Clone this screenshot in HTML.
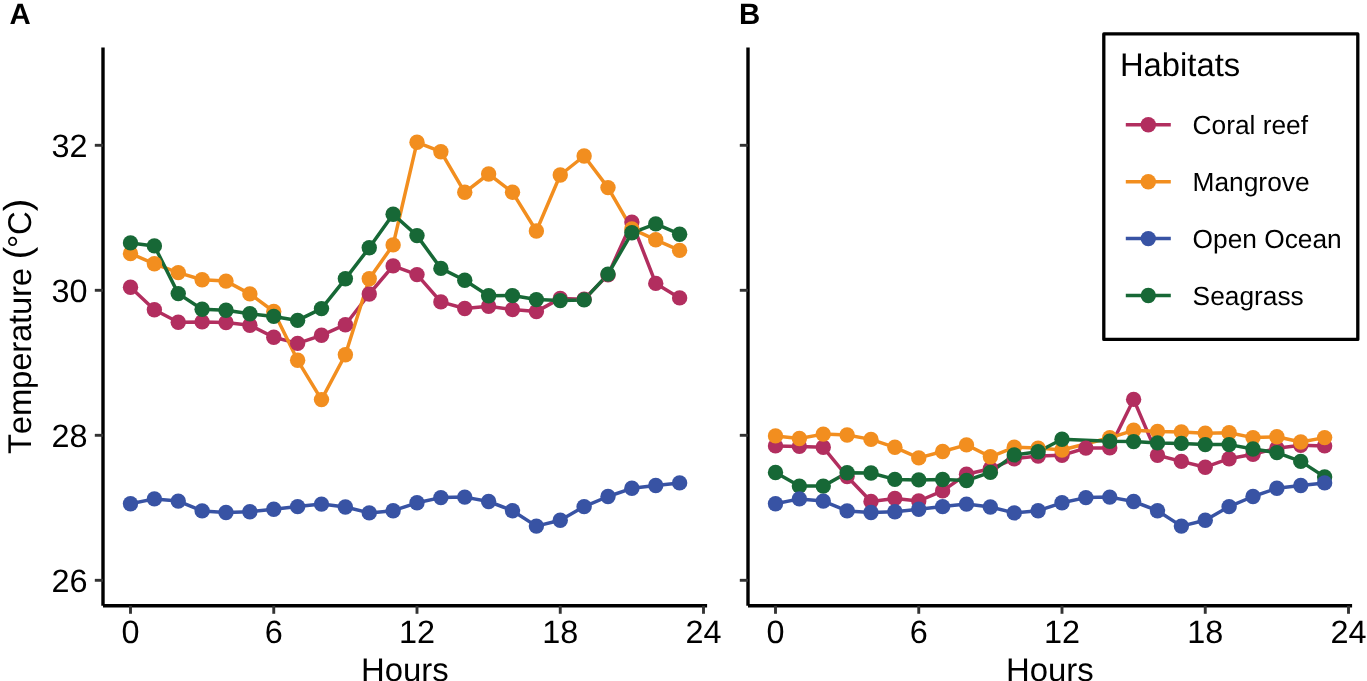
<!DOCTYPE html>
<html><head><meta charset="utf-8"><title>Temperature by habitat</title>
<style>
html,body{margin:0;padding:0;background:#fff;}
body{width:1367px;height:681px;overflow:hidden;}
svg{display:block;will-change:transform;}
text{font-family:"Liberation Sans",sans-serif;fill:#000;text-rendering:geometricPrecision;font-kerning:none;}
.tk{font-size:32.4px;}
.lt{font-size:32.8px;}
.ti{font-size:32.9px;}
.lg{font-size:26.3px;}
.pl{font-size:29.4px;font-weight:bold;}
.par{font-size:37.5px;letter-spacing:-1.3px;}
</style></head>
<body>
<svg width="1367" height="681" viewBox="0 0 1367 681">
<rect width="1367" height="681" fill="#fff"/>
<line x1="103.0" y1="47.4" x2="103.0" y2="605.7" stroke="#000" stroke-width="3.4"/>
<line x1="103.0" y1="605.85" x2="707.1" y2="605.85" stroke="#000" stroke-width="3.5"/>
<line x1="94.8" y1="580.30" x2="103.0" y2="580.30" stroke="#333" stroke-width="2.9"/>
<line x1="94.8" y1="435.30" x2="103.0" y2="435.30" stroke="#333" stroke-width="2.9"/>
<line x1="94.8" y1="290.30" x2="103.0" y2="290.30" stroke="#333" stroke-width="2.9"/>
<line x1="94.8" y1="145.30" x2="103.0" y2="145.30" stroke="#333" stroke-width="2.9"/>
<line x1="130.50" y1="605.85" x2="130.50" y2="613.8" stroke="#333" stroke-width="2.9"/>
<line x1="273.75" y1="605.85" x2="273.75" y2="613.8" stroke="#333" stroke-width="2.9"/>
<line x1="417.00" y1="605.85" x2="417.00" y2="613.8" stroke="#333" stroke-width="2.9"/>
<line x1="560.25" y1="605.85" x2="560.25" y2="613.8" stroke="#333" stroke-width="2.9"/>
<line x1="703.50" y1="605.85" x2="703.50" y2="613.8" stroke="#333" stroke-width="2.9"/>
<text x="87.6" y="592.20" text-anchor="end" class="tk">26</text>
<text x="87.6" y="447.20" text-anchor="end" class="tk">28</text>
<text x="87.6" y="302.20" text-anchor="end" class="tk">30</text>
<text x="87.6" y="157.20" text-anchor="end" class="tk">32</text>
<text x="130.50" y="643.2" text-anchor="middle" class="tk">0</text>
<text x="273.75" y="643.2" text-anchor="middle" class="tk">6</text>
<text x="417.00" y="643.2" text-anchor="middle" class="tk">12</text>
<text x="560.25" y="643.2" text-anchor="middle" class="tk">18</text>
<text x="703.50" y="643.2" text-anchor="middle" class="tk">24</text>
<text x="404.8" y="681.2" text-anchor="middle" class="ti">Hours</text>
<line x1="748.0" y1="47.4" x2="748.0" y2="605.7" stroke="#000" stroke-width="3.4"/>
<line x1="748.0" y1="605.85" x2="1352.1" y2="605.85" stroke="#000" stroke-width="3.5"/>
<line x1="739.8" y1="580.30" x2="748.0" y2="580.30" stroke="#333" stroke-width="2.9"/>
<line x1="739.8" y1="435.30" x2="748.0" y2="435.30" stroke="#333" stroke-width="2.9"/>
<line x1="739.8" y1="290.30" x2="748.0" y2="290.30" stroke="#333" stroke-width="2.9"/>
<line x1="739.8" y1="145.30" x2="748.0" y2="145.30" stroke="#333" stroke-width="2.9"/>
<line x1="775.50" y1="605.85" x2="775.50" y2="613.8" stroke="#333" stroke-width="2.9"/>
<line x1="918.75" y1="605.85" x2="918.75" y2="613.8" stroke="#333" stroke-width="2.9"/>
<line x1="1062.00" y1="605.85" x2="1062.00" y2="613.8" stroke="#333" stroke-width="2.9"/>
<line x1="1205.25" y1="605.85" x2="1205.25" y2="613.8" stroke="#333" stroke-width="2.9"/>
<line x1="1348.50" y1="605.85" x2="1348.50" y2="613.8" stroke="#333" stroke-width="2.9"/>
<text x="775.50" y="643.2" text-anchor="middle" class="tk">0</text>
<text x="918.75" y="643.2" text-anchor="middle" class="tk">6</text>
<text x="1062.00" y="643.2" text-anchor="middle" class="tk">12</text>
<text x="1205.25" y="643.2" text-anchor="middle" class="tk">18</text>
<text x="1348.50" y="643.2" text-anchor="middle" class="tk">24</text>
<text x="1049.8" y="681.2" text-anchor="middle" class="ti">Hours</text>
<path d="M130.50,287.30 L154.38,309.70 L178.25,322.30 L202.12,321.90 L226.00,322.50 L249.88,325.20 L273.75,337.30 L297.62,343.40 L321.50,335.30 L345.38,324.70 L369.25,294.00 L393.12,265.90 L417.00,274.60 L440.88,301.90 L464.75,308.50 L488.62,306.30 L512.50,309.50 L536.38,311.60 L560.25,298.40 L584.12,299.30 L608.00,274.90 L631.88,222.10 L655.75,283.40 L679.62,297.90" fill="none" stroke="#B22E5F" stroke-width="3.5" stroke-linejoin="round" stroke-linecap="butt"/>
<path d="M130.50,253.50 L154.38,263.80 L178.25,272.60 L202.12,279.70 L226.00,281.10 L249.88,293.90 L273.75,311.50 L297.62,360.30 L321.50,399.60 L345.38,354.70 L369.25,278.80 L393.12,244.90 L417.00,142.30 L440.88,151.70 L464.75,192.30 L488.62,174.00 L512.50,192.30 L536.38,231.00 L560.25,175.00 L584.12,156.00 L608.00,187.60 L631.88,228.90 L655.75,239.80 L679.62,250.40" fill="none" stroke="#F28E1F" stroke-width="3.5" stroke-linejoin="round" stroke-linecap="butt"/>
<path d="M130.50,503.70 L154.38,498.90 L178.25,501.10 L202.12,510.90 L226.00,512.50 L249.88,511.80 L273.75,509.20 L297.62,506.60 L321.50,504.10 L345.38,507.00 L369.25,512.90 L393.12,510.70 L417.00,502.80 L440.88,497.60 L464.75,497.10 L488.62,501.50 L512.50,510.70 L536.38,526.10 L560.25,520.20 L584.12,506.60 L608.00,496.50 L631.88,488.30 L655.75,485.50 L679.62,482.90" fill="none" stroke="#3853A4" stroke-width="3.5" stroke-linejoin="round" stroke-linecap="butt"/>
<path d="M130.50,242.90 L154.38,245.90 L178.25,293.60 L202.12,309.30 L226.00,310.20 L249.88,313.70 L273.75,316.40 L297.62,320.40 L321.50,308.60 L345.38,278.80 L369.25,247.80 L393.12,214.20 L417.00,235.60 L440.88,268.40 L464.75,280.30 L488.62,295.80 L512.50,295.60 L536.38,299.60 L560.25,300.60 L584.12,299.90 L608.00,274.10 L631.88,232.80 L655.75,223.90 L679.62,234.20" fill="none" stroke="#176836" stroke-width="3.5" stroke-linejoin="round" stroke-linecap="butt"/>
<circle cx="130.50" cy="287.30" r="7.7" fill="#B22E5F"/>
<circle cx="154.38" cy="309.70" r="7.7" fill="#B22E5F"/>
<circle cx="178.25" cy="322.30" r="7.7" fill="#B22E5F"/>
<circle cx="202.12" cy="321.90" r="7.7" fill="#B22E5F"/>
<circle cx="226.00" cy="322.50" r="7.7" fill="#B22E5F"/>
<circle cx="249.88" cy="325.20" r="7.7" fill="#B22E5F"/>
<circle cx="273.75" cy="337.30" r="7.7" fill="#B22E5F"/>
<circle cx="297.62" cy="343.40" r="7.7" fill="#B22E5F"/>
<circle cx="321.50" cy="335.30" r="7.7" fill="#B22E5F"/>
<circle cx="345.38" cy="324.70" r="7.7" fill="#B22E5F"/>
<circle cx="369.25" cy="294.00" r="7.7" fill="#B22E5F"/>
<circle cx="393.12" cy="265.90" r="7.7" fill="#B22E5F"/>
<circle cx="417.00" cy="274.60" r="7.7" fill="#B22E5F"/>
<circle cx="440.88" cy="301.90" r="7.7" fill="#B22E5F"/>
<circle cx="464.75" cy="308.50" r="7.7" fill="#B22E5F"/>
<circle cx="488.62" cy="306.30" r="7.7" fill="#B22E5F"/>
<circle cx="512.50" cy="309.50" r="7.7" fill="#B22E5F"/>
<circle cx="536.38" cy="311.60" r="7.7" fill="#B22E5F"/>
<circle cx="560.25" cy="298.40" r="7.7" fill="#B22E5F"/>
<circle cx="584.12" cy="299.30" r="7.7" fill="#B22E5F"/>
<circle cx="608.00" cy="274.90" r="7.7" fill="#B22E5F"/>
<circle cx="631.88" cy="222.10" r="7.7" fill="#B22E5F"/>
<circle cx="655.75" cy="283.40" r="7.7" fill="#B22E5F"/>
<circle cx="679.62" cy="297.90" r="7.7" fill="#B22E5F"/>
<circle cx="130.50" cy="253.50" r="7.7" fill="#F28E1F"/>
<circle cx="154.38" cy="263.80" r="7.7" fill="#F28E1F"/>
<circle cx="178.25" cy="272.60" r="7.7" fill="#F28E1F"/>
<circle cx="202.12" cy="279.70" r="7.7" fill="#F28E1F"/>
<circle cx="226.00" cy="281.10" r="7.7" fill="#F28E1F"/>
<circle cx="249.88" cy="293.90" r="7.7" fill="#F28E1F"/>
<circle cx="273.75" cy="311.50" r="7.7" fill="#F28E1F"/>
<circle cx="297.62" cy="360.30" r="7.7" fill="#F28E1F"/>
<circle cx="321.50" cy="399.60" r="7.7" fill="#F28E1F"/>
<circle cx="345.38" cy="354.70" r="7.7" fill="#F28E1F"/>
<circle cx="369.25" cy="278.80" r="7.7" fill="#F28E1F"/>
<circle cx="393.12" cy="244.90" r="7.7" fill="#F28E1F"/>
<circle cx="417.00" cy="142.30" r="7.7" fill="#F28E1F"/>
<circle cx="440.88" cy="151.70" r="7.7" fill="#F28E1F"/>
<circle cx="464.75" cy="192.30" r="7.7" fill="#F28E1F"/>
<circle cx="488.62" cy="174.00" r="7.7" fill="#F28E1F"/>
<circle cx="512.50" cy="192.30" r="7.7" fill="#F28E1F"/>
<circle cx="536.38" cy="231.00" r="7.7" fill="#F28E1F"/>
<circle cx="560.25" cy="175.00" r="7.7" fill="#F28E1F"/>
<circle cx="584.12" cy="156.00" r="7.7" fill="#F28E1F"/>
<circle cx="608.00" cy="187.60" r="7.7" fill="#F28E1F"/>
<circle cx="631.88" cy="228.90" r="7.7" fill="#F28E1F"/>
<circle cx="655.75" cy="239.80" r="7.7" fill="#F28E1F"/>
<circle cx="679.62" cy="250.40" r="7.7" fill="#F28E1F"/>
<circle cx="130.50" cy="503.70" r="7.7" fill="#3853A4"/>
<circle cx="154.38" cy="498.90" r="7.7" fill="#3853A4"/>
<circle cx="178.25" cy="501.10" r="7.7" fill="#3853A4"/>
<circle cx="202.12" cy="510.90" r="7.7" fill="#3853A4"/>
<circle cx="226.00" cy="512.50" r="7.7" fill="#3853A4"/>
<circle cx="249.88" cy="511.80" r="7.7" fill="#3853A4"/>
<circle cx="273.75" cy="509.20" r="7.7" fill="#3853A4"/>
<circle cx="297.62" cy="506.60" r="7.7" fill="#3853A4"/>
<circle cx="321.50" cy="504.10" r="7.7" fill="#3853A4"/>
<circle cx="345.38" cy="507.00" r="7.7" fill="#3853A4"/>
<circle cx="369.25" cy="512.90" r="7.7" fill="#3853A4"/>
<circle cx="393.12" cy="510.70" r="7.7" fill="#3853A4"/>
<circle cx="417.00" cy="502.80" r="7.7" fill="#3853A4"/>
<circle cx="440.88" cy="497.60" r="7.7" fill="#3853A4"/>
<circle cx="464.75" cy="497.10" r="7.7" fill="#3853A4"/>
<circle cx="488.62" cy="501.50" r="7.7" fill="#3853A4"/>
<circle cx="512.50" cy="510.70" r="7.7" fill="#3853A4"/>
<circle cx="536.38" cy="526.10" r="7.7" fill="#3853A4"/>
<circle cx="560.25" cy="520.20" r="7.7" fill="#3853A4"/>
<circle cx="584.12" cy="506.60" r="7.7" fill="#3853A4"/>
<circle cx="608.00" cy="496.50" r="7.7" fill="#3853A4"/>
<circle cx="631.88" cy="488.30" r="7.7" fill="#3853A4"/>
<circle cx="655.75" cy="485.50" r="7.7" fill="#3853A4"/>
<circle cx="679.62" cy="482.90" r="7.7" fill="#3853A4"/>
<circle cx="130.50" cy="242.90" r="7.7" fill="#176836"/>
<circle cx="154.38" cy="245.90" r="7.7" fill="#176836"/>
<circle cx="178.25" cy="293.60" r="7.7" fill="#176836"/>
<circle cx="202.12" cy="309.30" r="7.7" fill="#176836"/>
<circle cx="226.00" cy="310.20" r="7.7" fill="#176836"/>
<circle cx="249.88" cy="313.70" r="7.7" fill="#176836"/>
<circle cx="273.75" cy="316.40" r="7.7" fill="#176836"/>
<circle cx="297.62" cy="320.40" r="7.7" fill="#176836"/>
<circle cx="321.50" cy="308.60" r="7.7" fill="#176836"/>
<circle cx="345.38" cy="278.80" r="7.7" fill="#176836"/>
<circle cx="369.25" cy="247.80" r="7.7" fill="#176836"/>
<circle cx="393.12" cy="214.20" r="7.7" fill="#176836"/>
<circle cx="417.00" cy="235.60" r="7.7" fill="#176836"/>
<circle cx="440.88" cy="268.40" r="7.7" fill="#176836"/>
<circle cx="464.75" cy="280.30" r="7.7" fill="#176836"/>
<circle cx="488.62" cy="295.80" r="7.7" fill="#176836"/>
<circle cx="512.50" cy="295.60" r="7.7" fill="#176836"/>
<circle cx="536.38" cy="299.60" r="7.7" fill="#176836"/>
<circle cx="560.25" cy="300.60" r="7.7" fill="#176836"/>
<circle cx="584.12" cy="299.90" r="7.7" fill="#176836"/>
<circle cx="608.00" cy="274.10" r="7.7" fill="#176836"/>
<circle cx="631.88" cy="232.80" r="7.7" fill="#176836"/>
<circle cx="655.75" cy="223.90" r="7.7" fill="#176836"/>
<circle cx="679.62" cy="234.20" r="7.7" fill="#176836"/>
<path d="M775.50,445.90 L799.38,446.40 L823.25,447.30 L847.12,476.50 L871.00,501.50 L894.88,498.40 L918.75,501.00 L942.62,490.90 L966.50,474.30 L990.38,468.80 L1014.25,458.80 L1038.12,456.10 L1062.00,455.20 L1085.88,448.10 L1109.75,447.90 L1133.62,399.40 L1157.50,455.20 L1181.38,461.40 L1205.25,467.20 L1229.12,458.70 L1253.00,454.30 L1276.88,448.20 L1300.75,445.20 L1324.62,445.90" fill="none" stroke="#B22E5F" stroke-width="3.5" stroke-linejoin="round" stroke-linecap="butt"/>
<path d="M775.50,435.90 L799.38,438.50 L823.25,434.10 L847.12,435.00 L871.00,439.40 L894.88,447.30 L918.75,457.90 L942.62,451.50 L966.50,444.90 L990.38,456.80 L1014.25,447.30 L1038.12,448.10 L1062.00,450.00 L1109.75,437.80 L1133.62,430.30 L1157.50,431.40 L1181.38,431.90 L1205.25,433.20 L1229.12,432.80 L1253.00,437.60 L1276.88,436.70 L1300.75,442.00 L1324.62,437.60" fill="none" stroke="#F28E1F" stroke-width="3.5" stroke-linejoin="round" stroke-linecap="butt"/>
<path d="M775.50,472.50 L799.38,486.10 L823.25,486.10 L847.12,472.70 L871.00,473.00 L894.88,479.40 L918.75,479.90 L942.62,479.50 L966.50,480.50 L990.38,472.40 L1014.25,454.90 L1038.12,451.70 L1062.00,439.20 L1109.75,441.20 L1133.62,441.60 L1157.50,442.90 L1181.38,443.40 L1205.25,444.60 L1229.12,444.60 L1253.00,449.00 L1276.88,452.60 L1300.75,461.40 L1324.62,476.90" fill="none" stroke="#176836" stroke-width="3.5" stroke-linejoin="round" stroke-linecap="butt"/>
<path d="M775.50,503.70 L799.38,498.90 L823.25,501.10 L847.12,510.90 L871.00,512.50 L894.88,511.80 L918.75,509.20 L942.62,506.60 L966.50,504.10 L990.38,507.00 L1014.25,512.90 L1038.12,510.70 L1062.00,502.80 L1085.88,497.60 L1109.75,497.10 L1133.62,501.50 L1157.50,510.70 L1181.38,526.10 L1205.25,520.20 L1229.12,506.60 L1253.00,496.50 L1276.88,488.30 L1300.75,485.50 L1324.62,482.90" fill="none" stroke="#3853A4" stroke-width="3.5" stroke-linejoin="round" stroke-linecap="butt"/>
<circle cx="775.50" cy="445.90" r="7.7" fill="#B22E5F"/>
<circle cx="799.38" cy="446.40" r="7.7" fill="#B22E5F"/>
<circle cx="823.25" cy="447.30" r="7.7" fill="#B22E5F"/>
<circle cx="847.12" cy="476.50" r="7.7" fill="#B22E5F"/>
<circle cx="871.00" cy="501.50" r="7.7" fill="#B22E5F"/>
<circle cx="894.88" cy="498.40" r="7.7" fill="#B22E5F"/>
<circle cx="918.75" cy="501.00" r="7.7" fill="#B22E5F"/>
<circle cx="942.62" cy="490.90" r="7.7" fill="#B22E5F"/>
<circle cx="966.50" cy="474.30" r="7.7" fill="#B22E5F"/>
<circle cx="990.38" cy="468.80" r="7.7" fill="#B22E5F"/>
<circle cx="1014.25" cy="458.80" r="7.7" fill="#B22E5F"/>
<circle cx="1038.12" cy="456.10" r="7.7" fill="#B22E5F"/>
<circle cx="1062.00" cy="455.20" r="7.7" fill="#B22E5F"/>
<circle cx="1085.88" cy="448.10" r="7.7" fill="#B22E5F"/>
<circle cx="1109.75" cy="447.90" r="7.7" fill="#B22E5F"/>
<circle cx="1133.62" cy="399.40" r="7.7" fill="#B22E5F"/>
<circle cx="1157.50" cy="455.20" r="7.7" fill="#B22E5F"/>
<circle cx="1181.38" cy="461.40" r="7.7" fill="#B22E5F"/>
<circle cx="1205.25" cy="467.20" r="7.7" fill="#B22E5F"/>
<circle cx="1229.12" cy="458.70" r="7.7" fill="#B22E5F"/>
<circle cx="1253.00" cy="454.30" r="7.7" fill="#B22E5F"/>
<circle cx="1276.88" cy="448.20" r="7.7" fill="#B22E5F"/>
<circle cx="1300.75" cy="445.20" r="7.7" fill="#B22E5F"/>
<circle cx="1324.62" cy="445.90" r="7.7" fill="#B22E5F"/>
<circle cx="775.50" cy="435.90" r="7.7" fill="#F28E1F"/>
<circle cx="799.38" cy="438.50" r="7.7" fill="#F28E1F"/>
<circle cx="823.25" cy="434.10" r="7.7" fill="#F28E1F"/>
<circle cx="847.12" cy="435.00" r="7.7" fill="#F28E1F"/>
<circle cx="871.00" cy="439.40" r="7.7" fill="#F28E1F"/>
<circle cx="894.88" cy="447.30" r="7.7" fill="#F28E1F"/>
<circle cx="918.75" cy="457.90" r="7.7" fill="#F28E1F"/>
<circle cx="942.62" cy="451.50" r="7.7" fill="#F28E1F"/>
<circle cx="966.50" cy="444.90" r="7.7" fill="#F28E1F"/>
<circle cx="990.38" cy="456.80" r="7.7" fill="#F28E1F"/>
<circle cx="1014.25" cy="447.30" r="7.7" fill="#F28E1F"/>
<circle cx="1038.12" cy="448.10" r="7.7" fill="#F28E1F"/>
<circle cx="1062.00" cy="450.00" r="7.7" fill="#F28E1F"/>
<circle cx="1109.75" cy="437.80" r="7.7" fill="#F28E1F"/>
<circle cx="1133.62" cy="430.30" r="7.7" fill="#F28E1F"/>
<circle cx="1157.50" cy="431.40" r="7.7" fill="#F28E1F"/>
<circle cx="1181.38" cy="431.90" r="7.7" fill="#F28E1F"/>
<circle cx="1205.25" cy="433.20" r="7.7" fill="#F28E1F"/>
<circle cx="1229.12" cy="432.80" r="7.7" fill="#F28E1F"/>
<circle cx="1253.00" cy="437.60" r="7.7" fill="#F28E1F"/>
<circle cx="1276.88" cy="436.70" r="7.7" fill="#F28E1F"/>
<circle cx="1300.75" cy="442.00" r="7.7" fill="#F28E1F"/>
<circle cx="1324.62" cy="437.60" r="7.7" fill="#F28E1F"/>
<circle cx="775.50" cy="472.50" r="7.7" fill="#176836"/>
<circle cx="799.38" cy="486.10" r="7.7" fill="#176836"/>
<circle cx="823.25" cy="486.10" r="7.7" fill="#176836"/>
<circle cx="847.12" cy="472.70" r="7.7" fill="#176836"/>
<circle cx="871.00" cy="473.00" r="7.7" fill="#176836"/>
<circle cx="894.88" cy="479.40" r="7.7" fill="#176836"/>
<circle cx="918.75" cy="479.90" r="7.7" fill="#176836"/>
<circle cx="942.62" cy="479.50" r="7.7" fill="#176836"/>
<circle cx="966.50" cy="480.50" r="7.7" fill="#176836"/>
<circle cx="990.38" cy="472.40" r="7.7" fill="#176836"/>
<circle cx="1014.25" cy="454.90" r="7.7" fill="#176836"/>
<circle cx="1038.12" cy="451.70" r="7.7" fill="#176836"/>
<circle cx="1062.00" cy="439.20" r="7.7" fill="#176836"/>
<circle cx="1109.75" cy="441.20" r="7.7" fill="#176836"/>
<circle cx="1133.62" cy="441.60" r="7.7" fill="#176836"/>
<circle cx="1157.50" cy="442.90" r="7.7" fill="#176836"/>
<circle cx="1181.38" cy="443.40" r="7.7" fill="#176836"/>
<circle cx="1205.25" cy="444.60" r="7.7" fill="#176836"/>
<circle cx="1229.12" cy="444.60" r="7.7" fill="#176836"/>
<circle cx="1253.00" cy="449.00" r="7.7" fill="#176836"/>
<circle cx="1276.88" cy="452.60" r="7.7" fill="#176836"/>
<circle cx="1300.75" cy="461.40" r="7.7" fill="#176836"/>
<circle cx="1324.62" cy="476.90" r="7.7" fill="#176836"/>
<circle cx="775.50" cy="503.70" r="7.7" fill="#3853A4"/>
<circle cx="799.38" cy="498.90" r="7.7" fill="#3853A4"/>
<circle cx="823.25" cy="501.10" r="7.7" fill="#3853A4"/>
<circle cx="847.12" cy="510.90" r="7.7" fill="#3853A4"/>
<circle cx="871.00" cy="512.50" r="7.7" fill="#3853A4"/>
<circle cx="894.88" cy="511.80" r="7.7" fill="#3853A4"/>
<circle cx="918.75" cy="509.20" r="7.7" fill="#3853A4"/>
<circle cx="942.62" cy="506.60" r="7.7" fill="#3853A4"/>
<circle cx="966.50" cy="504.10" r="7.7" fill="#3853A4"/>
<circle cx="990.38" cy="507.00" r="7.7" fill="#3853A4"/>
<circle cx="1014.25" cy="512.90" r="7.7" fill="#3853A4"/>
<circle cx="1038.12" cy="510.70" r="7.7" fill="#3853A4"/>
<circle cx="1062.00" cy="502.80" r="7.7" fill="#3853A4"/>
<circle cx="1085.88" cy="497.60" r="7.7" fill="#3853A4"/>
<circle cx="1109.75" cy="497.10" r="7.7" fill="#3853A4"/>
<circle cx="1133.62" cy="501.50" r="7.7" fill="#3853A4"/>
<circle cx="1157.50" cy="510.70" r="7.7" fill="#3853A4"/>
<circle cx="1181.38" cy="526.10" r="7.7" fill="#3853A4"/>
<circle cx="1205.25" cy="520.20" r="7.7" fill="#3853A4"/>
<circle cx="1229.12" cy="506.60" r="7.7" fill="#3853A4"/>
<circle cx="1253.00" cy="496.50" r="7.7" fill="#3853A4"/>
<circle cx="1276.88" cy="488.30" r="7.7" fill="#3853A4"/>
<circle cx="1300.75" cy="485.50" r="7.7" fill="#3853A4"/>
<circle cx="1324.62" cy="482.90" r="7.7" fill="#3853A4"/>
<text x="9.4" y="24.0" class="pl">A</text>
<text x="739.1" y="24.2" class="pl">B</text>
<text transform="translate(31.4,454.05) rotate(-90)" class="ti"><tspan letter-spacing="-0.22">Temperature </tspan><tspan class="par" dx="0" dy="-1">(</tspan><tspan dx="0" dy="1">°</tspan><tspan dx="0">C</tspan><tspan class="par" dx="0" dy="-1">)</tspan></text>
<rect x="1103.8" y="33.9" width="254" height="305.5" fill="#fff" stroke="#000" stroke-width="3.3" stroke-linejoin="round"/>
<text x="1119.9" y="76.0" class="lt">Habitats</text>
<line x1="1125.8" y1="124.80" x2="1170.8" y2="124.80" stroke="#B22E5F" stroke-width="3.5"/>
<circle cx="1148.3" cy="124.80" r="7.7" fill="#B22E5F"/>
<text x="1192.6" y="133.80" class="lg">Coral reef</text>
<line x1="1125.8" y1="181.70" x2="1170.8" y2="181.70" stroke="#F28E1F" stroke-width="3.5"/>
<circle cx="1148.3" cy="181.70" r="7.7" fill="#F28E1F"/>
<text x="1192.6" y="190.70" class="lg">Mangrove</text>
<line x1="1125.8" y1="238.60" x2="1170.8" y2="238.60" stroke="#3853A4" stroke-width="3.5"/>
<circle cx="1148.3" cy="238.60" r="7.7" fill="#3853A4"/>
<text x="1192.6" y="247.60" class="lg">Open Ocean</text>
<line x1="1125.8" y1="295.50" x2="1170.8" y2="295.50" stroke="#176836" stroke-width="3.5"/>
<circle cx="1148.3" cy="295.50" r="7.7" fill="#176836"/>
<text x="1192.6" y="304.50" class="lg">Seagrass</text>
</svg>
</body></html>
